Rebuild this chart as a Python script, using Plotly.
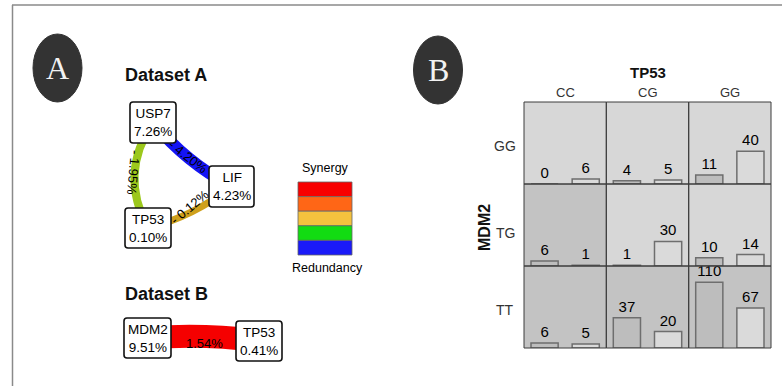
import plotly.graph_objects as go

W, H = 782, 386

# ---------------- data ----------------
# Panel A (Dataset A): interaction network
nodes_a = ["USP7", "LIF", "TP53"]
node_pct_a = [7.26, 4.23, 0.10]
edges_a = [("USP7", "LIF"), ("USP7", "TP53"), ("TP53", "LIF")]
edge_pct_a = [-4.20, -1.95, -0.12]

# Dataset B
nodes_b = ["MDM2", "TP53"]
node_pct_b = [9.51, 0.41]
edges_b = [("MDM2", "TP53")]
edge_pct_b = [1.54]

legend_labels = ["Synergy", "Redundancy"]
legend_colors = ["#f80000", "#ff6616", "#f4c23e", "#12dc12", "#1a1af8"]

# Panel B: counts by genotype (rows MDM2, cols TP53), two groups per cell
tp53_genotypes = ["CC", "CG", "GG"]
mdm2_genotypes = ["GG", "TG", "TT"]
counts_group1 = [[0, 4, 11], [6, 1, 10], [6, 37, 110]]
counts_group2 = [[6, 5, 40], [1, 30, 14], [5, 20, 67]]
cell_dark = [[False, False, False], [True, False, False], [True, True, True]]

# ---------------- layout / style ----------------
FONT = "Liberation Sans, Arial, sans-serif"
SERIF = "Liberation Serif, Times New Roman, serif"

node_pos = {  # pixel boxes (x0, y0, x1, y1)
    "A:USP7": (130, 102, 176, 143),
    "A:LIF": (209, 166, 254, 207),
    "A:TP53": (125, 208, 171, 248),
    "B:MDM2": (124, 318, 171, 358),
    "B:TP53": (236, 321, 282, 361),
}
edge_style_a = [  # color, width, bow (px), label pos, angle
    dict(color="#1414f5", width=12, bow=5, lab=(188, 156), ang=38),
    dict(color="#9cc81c", width=8, bow=16, lab=(134, 172), ang=95),
    dict(color="#cfa01c", width=7, bow=5, lab=(189, 207), ang=-40),
]
edge_style_b = [dict(color="#f50000", width=23, bow=-3, lab=(204, 343), ang=0)]

grid_x = [524, 606.3, 688.7, 771]
grid_y = [102, 184, 266, 348]
cell_ymax = [[100, 100, 100], [100, 100, 100], [100, 100, 137]]
bar_fill = ["#bdbdbd", "#dadada"]
cell_fill = {False: "#d7d7d7", True: "#c3c3c3"}

fig = go.Figure()
layout = dict(
    width=W, height=H, margin=dict(l=0, r=0, t=0, b=0),
    paper_bgcolor="white", plot_bgcolor="rgba(0,0,0,0)",
    showlegend=False, font=dict(family=FONT, color="#111"),
)
shapes = []
annotations = []

# ---- Panel B: 3x3 small bar charts ----
for r in range(3):
    for c in range(3):
        idx = r * 3 + c + 1
        xa = "x" if idx == 1 else f"x{idx}"
        ya = "y" if idx == 1 else f"y{idx}"
        xk = "xaxis" if idx == 1 else f"xaxis{idx}"
        yk = "yaxis" if idx == 1 else f"yaxis{idx}"
        vals = [counts_group1[r][c], counts_group2[r][c]]
        fig.add_trace(go.Bar(
            x=[0, 1], y=vals, xaxis=xa, yaxis=ya, width=0.66,
            marker=dict(color=bar_fill, line=dict(color="#6e6e6e", width=1.5)),
            texttemplate="%{y}", textposition="outside", cliponaxis=False,
            constraintext="none",
            textfont=dict(size=15, color="#000", family=FONT),
            hoverinfo="skip",
        ))
        layout[xk] = dict(domain=[grid_x[c] / W, grid_x[c + 1] / W], range=[-0.5, 1.5],
                          anchor=ya, visible=False, fixedrange=True)
        layout[yk] = dict(domain=[1 - grid_y[r + 1] / H, 1 - grid_y[r] / H],
                          range=[0, cell_ymax[r][c]], anchor=xa, visible=False, fixedrange=True)
        shapes.append(dict(type="rect", xref=f"{xa} domain", yref=f"{ya} domain",
                           x0=0, x1=1, y0=0, y1=1, layer="below",
                           fillcolor=cell_fill[cell_dark[r][c]], line=dict(width=0)))
        shapes.append(dict(type="rect", xref=f"{xa} domain", yref=f"{ya} domain",
                           x0=0, x1=1, y0=0, y1=1, layer="above",
                           fillcolor="rgba(0,0,0,0)", line=dict(color="#3c3c3c", width=1)))

# overlay pixel axis for drawings and labels
layout["xaxis10"] = dict(domain=[0, 1], range=[0, W], anchor="y10", visible=False, fixedrange=True)
layout["yaxis10"] = dict(domain=[0, 1], range=[H, 0], anchor="x10", visible=False, fixedrange=True)
P = dict(xref="x10", yref="y10")

for c, g in enumerate(tp53_genotypes):
    annotations.append(dict(x=(grid_x[c] + grid_x[c + 1]) / 2, y=92, text=g, showarrow=False,
                            font=dict(size=13, color="#333"), **P))
row_label_y = [146, 233, 310]
for r, g in enumerate(mdm2_genotypes):
    annotations.append(dict(x=505, y=row_label_y[r], text=g, showarrow=False,
                            font=dict(size=14, color="#333"), **P))
annotations.append(dict(x=648, y=72, text="<b>TP53</b>", showarrow=False,
                        font=dict(size=15, color="#111"), **P))
annotations.append(dict(x=484, y=228, text="<b>MDM2</b>", showarrow=False, textangle=-90,
                        font=dict(size=16, color="#111"), **P))

# ---- outer frame ----
shapes.append(dict(type="line", x0=12, x1=W, y0=5, y1=5, line=dict(color="#8a8a8a", width=1.5), **P))
shapes.append(dict(type="line", x0=12.5, x1=12.5, y0=5, y1=H, line=dict(color="#8a8a8a", width=1.5), **P))

# ---- panel letters ----
for (cx, cy, letter) in [(57.5, 68, "A"), (438, 70, "B")]:
    shapes.append(dict(type="circle", x0=cx - 24.5, x1=cx + 24.5, y0=cy - 34, y1=cy + 34,
                       fillcolor="#333333", line=dict(color="#333333", width=1), **P))
    annotations.append(dict(x=cx, y=cy, text=letter, showarrow=False,
                            font=dict(family=SERIF, size=32, color="#f2f2f2"), **P))

# ---- Panel A network ----
def center(key):
    x0, y0, x1, y1 = node_pos[key]
    return (x0 + x1) / 2, (y0 + y1) / 2


def edge_path(p, q, bow):
    (x0, y0), (x1, y1) = p, q
    mx, my = (x0 + x1) / 2, (y0 + y1) / 2
    dx, dy = x1 - x0, y1 - y0
    L = (dx * dx + dy * dy) ** 0.5
    nx, ny = -dy / L, dx / L
    cx, cy = mx + nx * bow * 2, my + ny * bow * 2
    return f"M {x0},{y0} Q {cx},{cy} {x1},{y1}"


def fmt_edge(v):
    return f"- {abs(v):.2f}%" if v < 0 else f"{v:.2f}%"


def rounded(x0, y0, x1, y1, rad=3):
    return (f"M {x0+rad},{y0} L {x1-rad},{y0} Q {x1},{y0} {x1},{y0+rad} "
            f"L {x1},{y1-rad} Q {x1},{y1} {x1-rad},{y1} L {x0+rad},{y1} "
            f"Q {x0},{y1} {x0},{y1-rad} L {x0},{y0+rad} Q {x0},{y0} {x0+rad},{y0} Z")


def draw_network(prefix, nodes, pcts, edges, epcts, estyles):
    for (a, b), v, st in zip(edges, epcts, estyles):
        shapes.append(dict(type="path", path=edge_path(center(prefix + a), center(prefix + b), st["bow"]),
                           line=dict(color=st["color"], width=st["width"]), **P))
    for (a, b), v, st in zip(edges, epcts, estyles):
        annotations.append(dict(x=st["lab"][0], y=st["lab"][1], text=fmt_edge(v), showarrow=False,
                                textangle=st["ang"], font=dict(family=FONT, size=13, color="#000"), **P))
    for n, pc in zip(nodes, pcts):
        x0, y0, x1, y1 = node_pos[prefix + n]
        shapes.append(dict(type="path", path=rounded(x0, y0, x1, y1), fillcolor="white",
                           line=dict(color="#111", width=1.6), **P))
        cx, cy = center(prefix + n)
        annotations.append(dict(x=cx, y=cy, text=f"{n}<br>{pc:.2f}%", showarrow=False,
                                font=dict(size=13.5, color="#000"), **P))


annotations.append(dict(x=123, y=75, text="<b>Dataset A</b>", xanchor="left", showarrow=False,
                        font=dict(size=18, color="#111"), **P))
annotations.append(dict(x=123, y=294, text="<b>Dataset B</b>", xanchor="left", showarrow=False,
                        font=dict(size=18, color="#111"), **P))
draw_network("A:", nodes_a, node_pct_a, edges_a, edge_pct_a, edge_style_a)
draw_network("B:", nodes_b, node_pct_b, edges_b, edge_pct_b, edge_style_b)

# ---- colour legend ----
lx0, lx1, ly0, band = 298, 352, 182, 14.6
for i, col in enumerate(legend_colors):
    shapes.append(dict(type="rect", x0=lx0, x1=lx1, y0=ly0 + i * band, y1=ly0 + (i + 1) * band,
                       fillcolor=col, line=dict(color="#666", width=0.8), **P))
annotations.append(dict(x=325, y=168, text=legend_labels[0], showarrow=False,
                        font=dict(size=12.5, color="#000"), **P))
annotations.append(dict(x=327, y=268, text=legend_labels[1], showarrow=False,
                        font=dict(size=12.5, color="#000"), **P))

layout["shapes"] = shapes
layout["annotations"] = annotations
fig.update_layout(**layout)
fig.write_html("out.html", config={"displayModeBar": False},
               post_script="document.body.style.margin='0px';")
